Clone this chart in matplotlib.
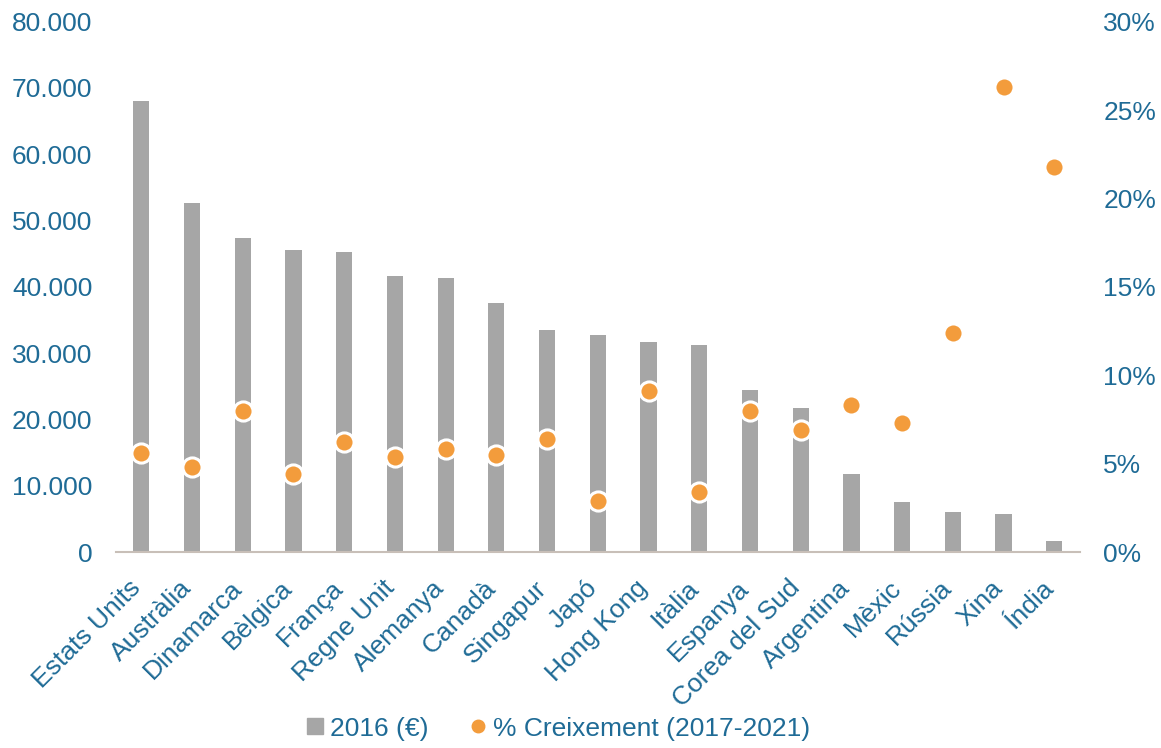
import numpy as np
import matplotlib
matplotlib.use("Agg")
import matplotlib.pyplot as plt
from matplotlib.ticker import FuncFormatter
from matplotlib.lines import Line2D
from matplotlib.transforms import ScaledTranslation

plt.rcParams['font.family'] = ['Liberation Sans', 'DejaVu Sans']

countries = ["Estats Units", "Austràlia", "Dinamarca", "Bèlgica", "França", "Regne Unit",
             "Alemanya", "Canadà", "Singapur", "Japó", "Hong Kong", "Itàlia", "Espanya",
             "Corea del Sud", "Argentina", "Mèxic", "Rússia", "Xina", "Índia"]
value_2016 = [68100, 52600, 47300, 45500, 45200, 41600, 41400, 37500, 33500, 32700,
              31700, 31300, 24400, 21700, 11700, 7500, 6000, 5800, 1600]
growth = [5.6, 4.8, 8.0, 4.4, 6.2, 5.4, 5.8, 5.5, 6.4, 2.9,
          9.1, 3.4, 8.0, 6.9, 8.3, 7.3, 12.4, 26.3, 21.8]

txt_color = "#1f6b96"
bar_color = "#a6a6a6"
dot_color = "#f39c3c"

fig = plt.figure(figsize=(11.61, 7.48), dpi=100)
ax = fig.add_axes([0.0999, 0.262, 0.830, 0.709])
x = np.arange(len(countries))

ax.bar(x, value_2016, width=0.32, color=bar_color, zorder=2)
ax.set_xlim(-0.5, len(countries) - 0.5)
ax.set_ylim(0, 80000)
ax.set_yticks(np.arange(0, 80001, 10000))
ax.yaxis.set_major_formatter(FuncFormatter(lambda v, p: "{:,.0f}".format(v).replace(",", ".")))

ax2 = ax.twinx()
ax2.scatter(x, growth, s=190, color=dot_color, edgecolor="white", linewidth=2.2, zorder=3)
ax2.set_ylim(0, 30)
ax2.set_yticks(np.arange(0, 31, 5))
ax2.yaxis.set_major_formatter(FuncFormatter(lambda v, p: "%d%%" % v))

for a in (ax, ax2):
    for s in a.spines.values():
        s.set_visible(False)
    a.tick_params(length=0, labelsize=19, colors=txt_color)
ax.spines["bottom"].set_visible(True)
ax.spines["bottom"].set_color("#c8bfb8")
ax.spines["bottom"].set_linewidth(1.5)
ax.tick_params(axis="y", pad=17)
ax2.tick_params(axis="y", pad=17)

ax.set_xticks(x)
ax.set_xticklabels(countries, rotation=45, ha="right", rotation_mode="anchor", fontsize=19)
ax.tick_params(axis="x", pad=10)
# nudge the rotated labels down-left like the original
offset = ScaledTranslation(-13 / 100, -10 / 100, fig.dpi_scale_trans)
for lbl in ax.get_xticklabels():
    lbl.set_transform(lbl.get_transform() + offset)

handles = [Line2D([], [], marker="s", linestyle="none", color=bar_color, markersize=11),
           Line2D([], [], marker="o", linestyle="none", color=dot_color, markersize=9)]
leg = fig.legend(handles, ["2016 (€)", "% Creixement (2017-2021)"], loc="center",
                 bbox_to_anchor=(0.479, 0.026), ncol=2, frameon=False, fontsize=19,
                 handletextpad=0.05, columnspacing=1.4, handlelength=1.0)
for t in leg.get_texts():
    t.set_color(txt_color)

fig.savefig("out.png", dpi=100)
